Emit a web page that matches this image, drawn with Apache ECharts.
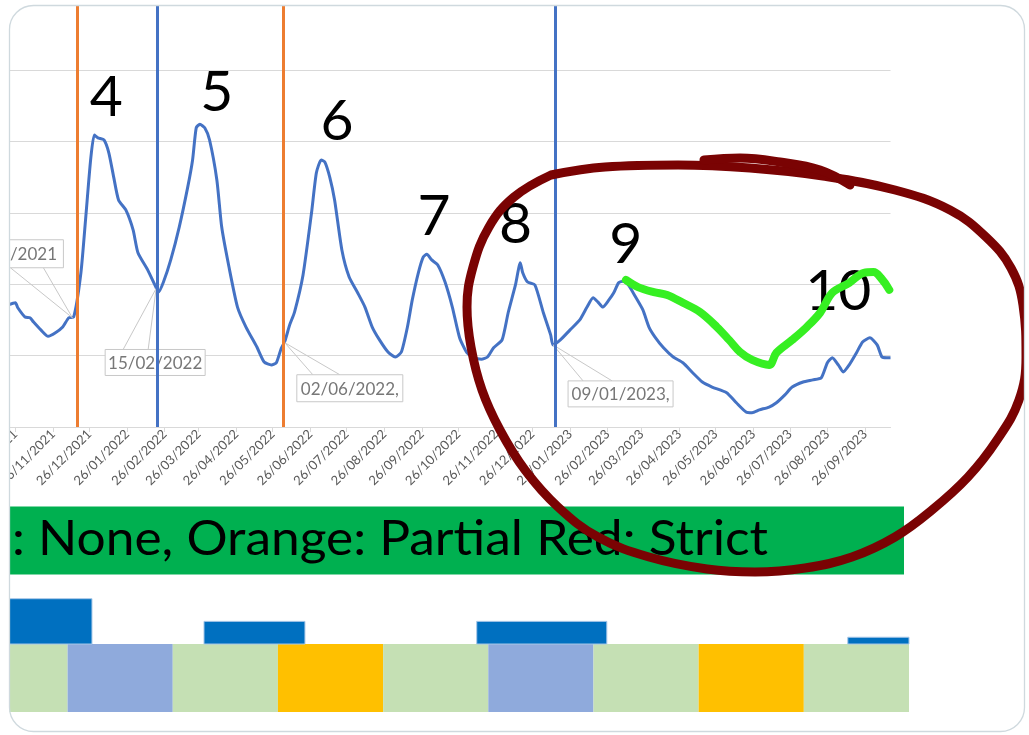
<!DOCTYPE html>
<html><head><meta charset="utf-8">
<script src="https://cdn.jsdelivr.net/npm/echarts@6/dist/echarts.min.js"></script>
<style>html,body{margin:0;padding:0;background:#fff;}#c{width:1029px;height:735px;}</style>
</head><body><div id="c"></div>
<script>
// ---------- data ----------
const tickLabels = ['26/10/2021','26/11/2021','26/12/2021','26/01/2022','26/02/2022','26/03/2022','26/04/2022','26/05/2022','26/06/2022','26/07/2022','26/08/2022','26/09/2022','26/10/2022','26/11/2022','26/12/2022','26/01/2023','26/02/2023','26/03/2023','26/04/2023','26/05/2023','26/06/2023','26/07/2023','26/08/2023','26/09/2023'];

const lineDates = ['2021-10-20','2021-10-26','2021-10-28','2021-11-03','2021-11-07','2021-11-10','2021-11-16','2021-11-22','2021-11-28','2021-12-04','2021-12-09','2021-12-13','2021-12-19','2021-12-23','2021-12-27','2021-12-30','2022-01-02','2022-01-07','2022-01-11','2022-01-15','2022-01-19','2022-01-25','2022-01-31','2022-02-04','2022-02-12','2022-02-19','2022-02-21','2022-02-25','2022-03-03','2022-03-10','2022-03-17','2022-03-21','2022-03-24','2022-03-27','2022-03-31','2022-04-04','2022-04-10','2022-04-14','2022-04-20','2022-04-27','2022-05-04','2022-05-13','2022-05-19','2022-05-25','2022-05-29','2022-06-02','2022-06-05','2022-06-09','2022-06-13','2022-06-20','2022-06-27','2022-07-01','2022-07-05','2022-07-08','2022-07-12','2022-07-16','2022-07-22','2022-07-28','2022-08-04','2022-08-10','2022-08-16','2022-08-22','2022-08-29','2022-09-04','2022-09-09','2022-09-14','2022-09-18','2022-09-23','2022-09-27','2022-09-30','2022-10-04','2022-10-09','2022-10-15','2022-10-21','2022-10-27','2022-11-02','2022-11-07','2022-11-14','2022-11-19','2022-11-24','2022-12-01','2022-12-06','2022-12-12','2022-12-16','2022-12-18','2022-12-22','2022-12-28','2023-01-04','2023-01-10','2023-01-12','2023-01-18','2023-01-26','2023-02-03','2023-02-09','2023-02-14','2023-02-18','2023-02-22','2023-02-27','2023-03-03','2023-03-07','2023-03-11','2023-03-15','2023-03-21','2023-03-27','2023-04-01','2023-04-06','2023-04-13','2023-04-21','2023-04-29','2023-05-07','2023-05-15','2023-05-23','2023-06-04','2023-06-12','2023-06-20','2023-06-25','2023-07-01','2023-07-09','2023-07-15','2023-07-22','2023-07-28','2023-08-06','2023-08-14','2023-08-21','2023-08-26','2023-08-30','2023-09-04','2023-09-08','2023-09-13','2023-09-19','2023-09-24','2023-09-30','2023-10-06','2023-10-10','2023-10-14','2023-10-17'];
const lineValues = [171,174,167,154,153,147,136,127,132,140,153,154,216,294,374,409,405,402,384,350,318,304,276,244,220,195,189,203,234,280,336,374,419,424,419,402,346,280,224,168,140,112,91,87,90,110,120,143,161,213,300,356,374,371,350,318,248,210,188,168,140,122,105,98,105,140,178,216,238,242,234,227,203,168,125,104,98,95,98,111,122,160,199,230,216,203,199,160,129,115,122,136,150,168,181,175,168,178,188,202,204,199,182,164,140,126,111,98,90,76,63,56,48,34,21,20,24,28,34,45,56,63,66,69,90,97,87,77,87,104,119,125,115,98,97,97];

// hand-drawn green trend
const trendDates = ['2023-03-13','2023-03-23','2023-04-05','2023-04-16','2023-04-29','2023-05-13','2023-05-27','2023-06-06','2023-06-15','2023-06-25','2023-07-09','2023-07-15','2023-07-28','2023-08-09','2023-08-20','2023-08-30','2023-09-13','2023-09-25','2023-10-03','2023-10-09','2023-10-16'];
const trendValues = [206,196,189,185,174,161,140,122,105,94,87,104,122,140,160,188,202,216,217,209,192];

// vertical restriction markers
const markerDates = ['2021-12-16','2022-02-20','2022-06-04','2023-01-14'];
const markerKinds = ['partial','strict','partial','strict'];

// date callouts
const calloutDates = ['2021-12-12','2022-02-19','2022-06-05','2023-01-12'];
const calloutValues = [153,194,118,115];
const calloutTexts = ['09/12/2021','15/02/2022','02/06/2022,','09/01/2023,'];

// wave numbers
const waveNames = ['4','5','6','7','8','9','10'];
const waveDates = ['2022-01-09','2022-04-10','2022-07-18','2022-10-06','2022-12-12','2023-03-13','2023-09-04'];
const waveValues = [462,468,427,294,284,255,189];

// lower strip
const bandText = ': None, Orange: Partial Red: Strict';
const stateStart = [-1,0,1,2,3,4,5,6,7];
const stateEnd   = [0,1,2,3,4,5,6,7,8];
const stateKinds = ['none','strict','none','partial','none','strict','none','partial','none'];
const barStart = [-1,1.297,3.89,7.418];
const barEnd   = [0.232,2.257,5.127,8];
const barValues = [2.0,1.0,1.0,0.3];

// red hand-drawn ink loop (overlay, canvas units)
const inkLoopX = [551,605,678,750,823,895,950,986,1011,1023,1026,1019,997,968,932,895,852,805,755,707,649,598,558,525,500,482,471,467,473,489,514,551];
const inkLoopY = [175,167,165,168,176,190,210,237,268,305,357,400,440,477,510,537,557,568,572,569,557,537,507,470,430,390,347,307,267,227,197,175];
const inkTailX = [704,740,780,820,850];
const inkTailY = [160,158,162,170,185];

// ---------- helpers / styles ----------
const ts = s => { const [y,m,d] = s.split('-').map(Number); return new Date(y, m-1, d).getTime(); };
const tickTs = tickLabels.map(l => { const [d,m,y] = l.split('/').map(Number); return new Date(y, m-1, d).getTime(); });
const markerColor = {partial:'#ED7D31', strict:'#4472C4'};
const stateColor = {none:'#C5E0B4', strict:'#8FAADC', partial:'#FFC000'};
const calloutLayout = [
  {dx:-116, dy:-78, w:107, h:28, edge:'bottom', w1:-62, w2:-29},
  {dx:-51, dy:61, w:100, h:26, edge:'top', w1:-33, w2:-8},
  {dx:12, dy:32, w:106, h:27, edge:'top', w1:28, w2:55},
  {dx:15, dy:36, w:105, h:26, edge:'top', w1:30, w2:59}
];

const mctx = document.createElement('canvas').getContext('2d');
mctx.font = '48px Lato';
const bandScale = 756 / mctx.measureText(bandText).width;

const chart = echarts.init(document.getElementById('c'), null, {renderer:'canvas'});
chart.setOption({
  animation: false,
  backgroundColor: '#fff',
  grid: [
    {left: -0.41, right: 138.5, top: -1.4, bottom: 308, outerBoundsMode: 'none', containLabel: false},
    {left: -37.6, right: 120, top: 598.7, bottom: 23, outerBoundsMode: 'none', containLabel: false},
    {left: 0, right: 0, top: 0, bottom: 0, outerBoundsMode: 'none', containLabel: false}
  ],
  xAxis: [
    {type:'value', gridIndex:0, min: ts('2021-10-13'), max: ts('2023-10-17'), scale:true,
     axisLine:{show:true, onZero:false, lineStyle:{color:'#d9d9d9', width:1}},
     axisTick:{show:true, customValues: tickTs, length:5, lineStyle:{color:'#d9d9d9'}},
     axisLabel:{show:true, customValues: tickTs, rotate:45, margin:5, color:'#595959', fontSize:13, fontFamily:'Lato',
       hideOverlap:false, showMinLabel:true, showMaxLabel:true,
       formatter: v => { const i = tickTs.indexOf(v); return i >= 0 ? tickLabels[i] : ''; }},
     splitLine:{show:false}},
    {type:'value', gridIndex:1, min:-1, max:8, show:false},
    {type:'value', gridIndex:2, min:0, max:1029, show:false}
  ],
  yAxis: [
    {type:'value', gridIndex:0, min:0, max:600, interval:100,
     axisLine:{show:false}, axisTick:{show:false}, axisLabel:{show:false},
     splitLine:{show:true, lineStyle:{color:'#d9d9d9', width:1}}},
    {type:'value', gridIndex:1, min:-3, max:2, show:false},
    {type:'value', gridIndex:2, min:0, max:735, inverse:true, show:false}
  ],
  graphic: [
    {type:'rect', z:1, shape:{x:0, y:506.5, width:904, height:68}, style:{fill:'#00B050'}},
    {type:'text', z:2, x:12, y:540, scaleX: bandScale, style:{text: bandText, font:'48px Lato', fill:'#000', align:'left', verticalAlign:'middle'}},
    {type:'rect', z:100, shape:{x:0, y:0, width:9.5, height:735}, style:{fill:'#fff'}},
    {type:'rect', z:100, shape:{x:0, y:0, width:1029, height:5.5}, style:{fill:'#fff'}},
    {type:'rect', z:100, shape:{x:1024.5, y:0, width:4.5, height:735}, style:{fill:'#fff'}},
    {type:'rect', z:100, shape:{x:0, y:731.5, width:1029, height:3.5}, style:{fill:'#fff'}},
    {type:'rect', z:101, shape:{x:9.5, y:5.5, width:1015, height:726, r:24}, style:{fill:'transparent', stroke:'#cfd9de', lineWidth:1.3}}
  ],
  series: [
    {type:'line', name:'cases', xAxisIndex:0, yAxisIndex:0, z:3,
     data: lineDates.map((d,i) => [ts(d), lineValues[i]]),
     showSymbol:false, symbol:'none', smooth:0.2, lineStyle:{color:'#4472C4', width:3, join:'round'},
     markLine:{silent:true, symbol:['none','none'], label:{show:false}, animation:false,
       data: markerDates.map((d,i) => ({xAxis: ts(d), lineStyle:{color: markerColor[markerKinds[i]], width:3, type:'solid'}}))}},
    {type:'custom', name:'callouts', xAxisIndex:0, yAxisIndex:0, z:4, clip:false,
     data: calloutDates.map((d,i) => [ts(d), calloutValues[i]]),
     encode:{x:0, y:1},
     renderItem: (params, api) => {
       const i = params.dataIndex, L = calloutLayout[i];
       const p = api.coord([api.value(0), api.value(1)]);
       const bx = p[0] + L.dx, by = p[1] + L.dy;
       const baseY = L.edge === 'top' ? by : by + L.h;
       return {type:'group', children:[
         {type:'polyline', shape:{points:[[p[0]+L.w1, baseY],[p[0], p[1]],[p[0]+L.w2, baseY]]}, style:{stroke:'#c8c8c8', lineWidth:1, fill:'none'}},
         {type:'rect', shape:{x:bx, y:by, width:L.w, height:L.h}, style:{fill:'#fff', stroke:'#c8c8c8', lineWidth:1}},
         {type:'text', x:bx + L.w/2, y:by + L.h/2 + 1, style:{text: calloutTexts[i], font:'17px Lato', fill:'#777', align:'center', verticalAlign:'middle'}}
       ]};
     }},
    {type:'custom', name:'waves', xAxisIndex:0, yAxisIndex:0, z:4, clip:false,
     data: waveDates.map((d,i) => [ts(d), waveValues[i]]),
     encode:{x:0, y:1},
     renderItem: (params, api) => {
       const p = api.coord([api.value(0), api.value(1)]);
       return {type:'text', x:p[0], y:p[1], style:{text: waveNames[params.dataIndex], font:'57px Lato', fill:'#000', align:'center', verticalAlign:'middle'}};
     }},
    {type:'line', name:'trend', xAxisIndex:0, yAxisIndex:0, z:6, clip:false,
     data: trendDates.map((d,i) => [ts(d), trendValues[i]]),
     showSymbol:false, symbol:'none', smooth:0.35,
     lineStyle:{color:'#36ef22', width:8, cap:'round', join:'round'}},
    {type:'custom', name:'states', xAxisIndex:1, yAxisIndex:1, z:2,
     data: stateStart.map((s,i) => [s, stateEnd[i]]),
     encode:{x:[0,1]},
     renderItem: (params, api) => {
       const a = api.coord([api.value(0), 0]), b = api.coord([api.value(1), -3]);
       return {type:'rect', shape:{x:a[0], y:a[1], width:b[0]-a[0], height:b[1]-a[1]}, style:{fill: stateColor[stateKinds[params.dataIndex]]}};
     }},
    {type:'custom', name:'bars', xAxisIndex:1, yAxisIndex:1, z:2,
     data: barStart.map((s,i) => [s, barEnd[i], barValues[i]]),
     encode:{x:[0,1], y:2},
     renderItem: (params, api) => {
       const a = api.coord([api.value(0), api.value(2)]), b = api.coord([api.value(1), 0]);
       return {type:'rect', shape:{x:a[0], y:a[1], width:b[0]-a[0], height:b[1]-a[1]}, style:{fill:'#0070C0', stroke:'#a9c8e8', lineWidth:1}};
     }},
    {type:'line', name:'inkLoop', xAxisIndex:2, yAxisIndex:2, z:10, clip:false,
     data: inkLoopX.map((x,i) => [x, inkLoopY[i]]), showSymbol:false, symbol:'none', smooth:0.4,
     lineStyle:{color:'#7a0303', width:9, cap:'round', join:'round'}},
    {type:'line', name:'inkTail', xAxisIndex:2, yAxisIndex:2, z:10, clip:false,
     data: inkTailX.map((x,i) => [x, inkTailY[i]]), showSymbol:false, symbol:'none', smooth:0.4,
     lineStyle:{color:'#7a0303', width:9, cap:'round', join:'round'}}
  ]
});
</script>
</body></html>
